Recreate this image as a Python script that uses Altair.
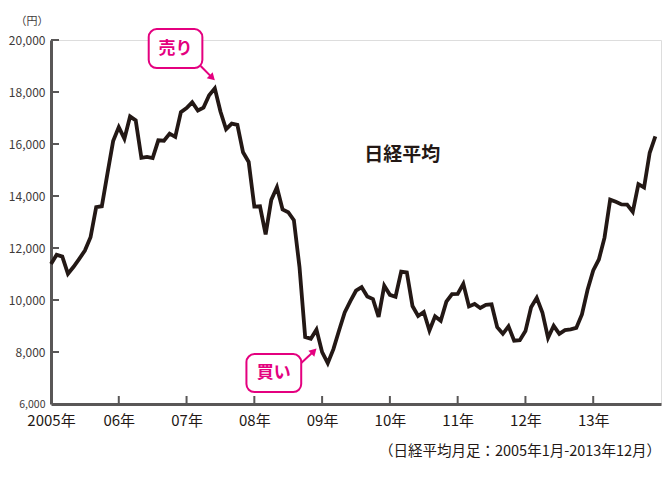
import altair as alt
import pandas as pd

# Monthly closes of the Nikkei 225, Jan 2005 - Dec 2013
v2005 = [11388, 11741, 11669, 11009, 11277, 11584, 11900, 12414, 13574, 13607, 14872, 16111]
v2006 = [16650, 16205, 17060, 16906, 15467, 15505, 15457, 16141, 16128, 16399, 16274, 17226]
v2007 = [17383, 17604, 17288, 17400, 17876, 18138, 17249, 16569, 16786, 16738, 15681, 15308]
v2008 = [13592, 13603, 12526, 13850, 14339, 13481, 13377, 13073, 11260, 8577, 8512, 8860]
v2009 = [7994, 7568, 8110, 8828, 9523, 9958, 10357, 10493, 10133, 10035, 9346, 10546]
v2010 = [10198, 10126, 11090, 11057, 9769, 9383, 9537, 8824, 9369, 9202, 9937, 10229]
v2011 = [10238, 10624, 9755, 9850, 9694, 9816, 9833, 8955, 8700, 8988, 8435, 8455]
v2012 = [8803, 9723, 10084, 9521, 8543, 9007, 8695, 8840, 8870, 8928, 9446, 10395]
v2013 = [11139, 11559, 12398, 13861, 13775, 13677, 13668, 13389, 14456, 14328, 15662, 16291]

year_labels = ["2005年", "06年", "07年", "08年", "09年", "10年", "11年", "12年", "13年"]
y_ticks = [6000, 8000, 10000, 12000, 14000, 16000, 18000, 20000]

values = v2005 + v2006 + v2007 + v2008 + v2009 + v2010 + v2011 + v2012 + v2013
df = pd.DataFrame({"m": list(range(len(values))), "v": values})

x_ticks = [12 * i for i in range(len(year_labels))]
label_js = "[" + ",".join("'%s'" % s for s in year_labels) + "]"

PINK = "#e4007f"
INK = "#231815"
AXIS = "#595757"
FONT = "'Noto Sans CJK JP', sans-serif"
CJK = "'Noto Sans CJK JP', sans-serif"

xs = alt.Scale(domain=[0, 108], nice=False, zero=False)
ys = alt.Scale(domain=[6000, 20000], nice=False, zero=False)

base = alt.Chart(df)

line = base.mark_line(color=INK, strokeWidth=3.8, strokeJoin="miter").encode(
    x=alt.X("m:Q", scale=xs, axis=alt.Axis(
        values=x_ticks, labelExpr=label_js + "[datum.value/12]", ticks=False,
        grid=False, domainColor=AXIS, domainWidth=3, labelFont=FONT,
        labelFontSize=15, labelColor=INK, labelPadding=9, title=None,
        labelOverlap=False, labelFlush=False, labelFontWeight="normal")),
    y=alt.Y("v:Q", scale=ys, axis=alt.Axis(
        values=y_ticks, format=",d", ticks=False, grid=False,
        domainColor=AXIS, domainWidth=3, labelFont=FONT,
        labelFontSize={"condition": {"test": "datum.value == 6000", "value": 10.5}, "value": 12},
        labelColor="#3e3a39", labelPadding=6, labelOverlap=False,
        labelFlush=False,
        title="（円）", titleAngle=0,
        titleFont=CJK, titleFontSize=11, titleFontWeight="normal",
        titleColor="#3e3a39", titleX=-3, titleY=-14, titleAlign="right")),
)

ytick_df = pd.DataFrame({"v": y_ticks[1:]})
yticks = alt.Chart(ytick_df).mark_rule(color=AXIS, strokeWidth=2).encode(
    y=alt.Y("v:Q", scale=ys), x=alt.value(0), x2=alt.value(8))

xtick_df = pd.DataFrame({"m": x_ticks[1:]})
xticks = alt.Chart(xtick_df).mark_rule(color=AXIS, strokeWidth=2).encode(
    x=alt.X("m:Q", scale=xs), y=alt.value(364), y2=alt.value(356))

# annotation boxes
box_df = pd.DataFrame({
    "x1": [17.3, 34.6], "x2": [26.8, 44.3],
    "y1": [18920, 6460], "y2": [20420, 7920],
})
boxes = alt.Chart(box_df).mark_rect(
    fill="white", stroke=PINK, strokeWidth=2, cornerRadius=8).encode(
    x=alt.X("x1:Q", scale=xs), x2="x2:Q",
    y=alt.Y("y1:Q", scale=ys), y2="y2:Q")

lab_df = pd.DataFrame({"x": [22.05, 39.45], "y": [19670, 7190], "t": ["売り", "買い"]})
labels = alt.Chart(lab_df).mark_text(
    color=PINK, font=CJK, fontSize=17, fontWeight="bold", baseline="middle").encode(
    x=alt.X("x:Q", scale=xs), y=alt.Y("y:Q", scale=ys), text="t:N")

arr_df = pd.DataFrame({"x1": [26.5, 44.3], "y1": [19000, 7580],
                       "x2": [28.4, 46.4], "y2": [18580, 8000], "a": [135, 45]})
shafts = alt.Chart(arr_df).mark_rule(color=PINK, strokeWidth=2).encode(
    x=alt.X("x1:Q", scale=xs), x2="x2:Q",
    y=alt.Y("y1:Q", scale=ys), y2="y2:Q")
heads = alt.Chart(arr_df).mark_point(
    shape="triangle", filled=True, color=PINK, size=70, opacity=1).encode(
    x=alt.X("x2:Q", scale=xs), y=alt.Y("y2:Q", scale=ys),
    angle=alt.Angle("a:Q", scale=None))

title_df = pd.DataFrame({"x": [62.2], "y": [15580], "t": ["日経平均"]})
title = alt.Chart(title_df).mark_text(
    color=INK, font=CJK, fontSize=19, fontWeight="bold", baseline="middle").encode(
    x=alt.X("x:Q", scale=xs), y=alt.Y("y:Q", scale=ys), text="t:N")

note_df = pd.DataFrame({"x": [108.0], "y": [4150], "t": ["（日経平均月足：2005年1月-2013年12月）"]})
note = alt.Chart(note_df).mark_text(
    color=INK, font=CJK, fontSize=14.5, align="right", baseline="middle").encode(
    x=alt.X("x:Q", scale=xs), y=alt.Y("y:Q", scale=ys), text="t:N")

chart = alt.layer(line, yticks, xticks, shafts, heads, boxes, labels, title, note).properties(
    width=610, height=364,
    autosize=alt.AutoSizeParams(type="none"),
    padding={"left": 43, "top": 32, "right": 1, "bottom": 86},
).configure_view(stroke=None).configure(background="white")

chart.save("out.html", embed_options={"renderer": "svg", "actions": False})
